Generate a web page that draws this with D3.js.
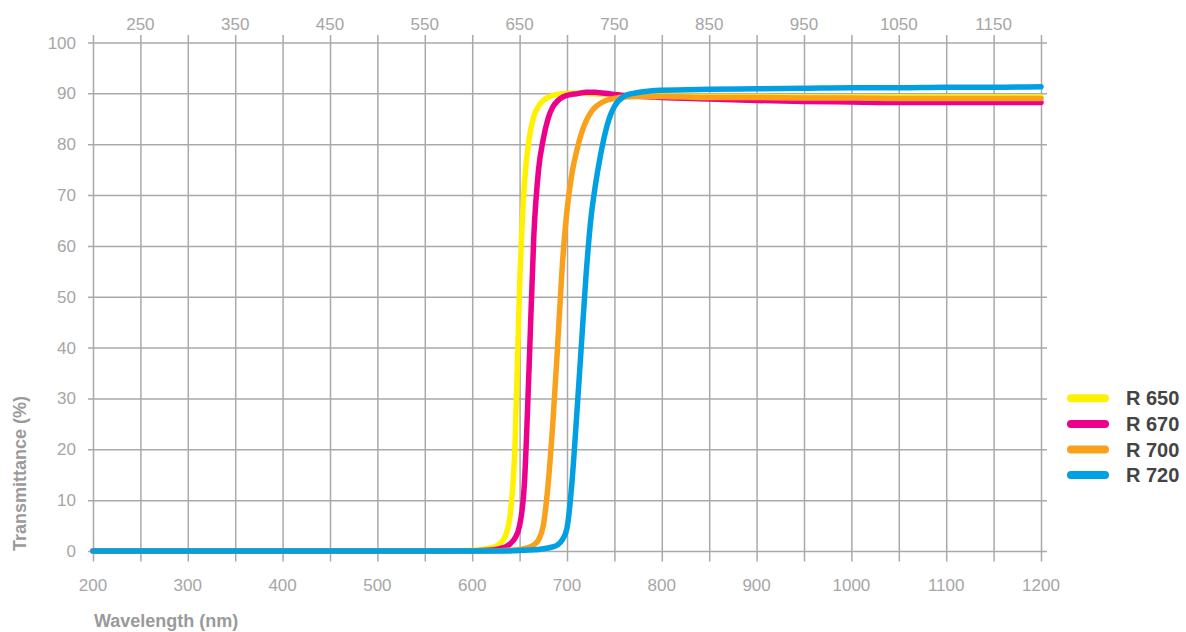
<!DOCTYPE html>
<html>
<head>
<meta charset="utf-8">
<script src="https://cdn.jsdelivr.net/npm/d3@7"></script>
<style>
  html, body { margin: 0; padding: 0; background: #fff; }
  svg { display: block; }
  .tick-label { font-family: "Liberation Sans", Arial, sans-serif; font-size: 17px; fill: #a6a6a6; }
  .axis-title { font-family: "Liberation Sans", Arial, sans-serif; font-size: 18px; font-weight: bold; fill: #9a9a9a; }
  .legend-label { font-family: "Liberation Sans", Arial, sans-serif; font-size: 20px; font-weight: bold; fill: #444; }
</style>
</head>
<body>
<svg id="chart" width="1186" height="632"></svg>
<script>
// Wavelength samples (nm), shared by all filters
const wavelengths = [200, 300, 400, 500, 550, 600, 610, 620, 625, 630, 635, 640, 645, 650, 655, 660, 665, 670, 675, 680, 685, 690, 695, 700, 705, 710, 715, 720, 725, 730, 735, 740, 745, 750, 760, 770, 780, 790, 800, 850, 900, 950, 1000, 1050, 1100, 1150, 1200];

// Transmittance (%) for each long-pass filter
const r650 = [0, 0, 0, 0, 0, 0.1, 0.3, 0.6, 0.9, 1.6, 3, 7, 20, 52, 72, 81, 85.5, 87.5, 88.6, 89.2, 89.6, 89.8, 89.9, 90, 90, 90, 90, 90, 89.9, 89.9, 89.8, 89.8, 89.7, 89.7, 89.6, 89.6, 89.5, 89.5, 89.5, 89.4, 89.4, 89.3, 89.3, 89.3, 89.3, 89.3, 89.3];
const r670 = [0, 0, 0, 0, 0, 0.05, 0.1, 0.2, 0.3, 0.5, 0.8, 1.4, 2.5, 5, 13, 36, 62, 75, 81, 85, 87.3, 88.5, 89.2, 89.6, 89.8, 89.9, 90.1, 90.2, 90.2, 90.2, 90.1, 90, 89.9, 89.8, 89.6, 89.5, 89.4, 89.3, 89.2, 88.9, 88.6, 88.4, 88.3, 88.2, 88.2, 88.2, 88.2];
const r700 = [0, 0, 0, 0, 0, 0, 0, 0, 0, 0.05, 0.1, 0.15, 0.2, 0.3, 0.5, 0.7, 1.2, 2.2, 5, 13, 25, 40, 56, 67, 74, 78.5, 82, 84.5, 86.2, 87.3, 88, 88.5, 88.8, 89, 89.3, 89.4, 89.4, 89.4, 89.4, 89.2, 89.2, 89.1, 89.1, 89, 89, 89, 89];
const r720 = [0, 0, 0, 0, 0, 0, 0, 0, 0, 0, 0, 0, 0.05, 0.1, 0.15, 0.2, 0.25, 0.3, 0.45, 0.6, 0.8, 1.2, 2.2, 4.5, 13, 26, 40, 54, 65, 72, 77.5, 82, 85.3, 87.4, 89.4, 90, 90.3, 90.5, 90.6, 90.8, 90.9, 91, 91.1, 91.1, 91.2, 91.2, 91.3];

const seriesNames = ["R 650", "R 670", "R 700", "R 720"];
const seriesColors = ["#fff100", "#ec008c", "#f9a11b", "#00a0e3"];
const seriesValues = [r650, r670, r700, r720];

// Axis ticks
const yTicks = [0, 10, 20, 30, 40, 50, 60, 70, 80, 90, 100];
const xBottomTicks = [200, 300, 400, 500, 600, 700, 800, 900, 1000, 1100, 1200];
const xTopTicks = [250, 350, 450, 550, 650, 750, 850, 950, 1050, 1150];

const svg = d3.select("#chart");
const plot = { left: 93, right: 1041, top: 42.5, bottom: 551 };

const x = d3.scaleLinear().domain([200, 1200]).range([plot.left, plot.right]);
const y = d3.scaleLinear().domain([0, 100]).range([plot.bottom, plot.top]);

const gridColor = "#a9a9a9";

// Horizontal grid lines (with small overhang on both sides)
const hGrid = svg.append("g")
  .attr("transform", `translate(${plot.left - 5},0)`)
  .call(d3.axisRight(y).tickValues(yTicks).tickSize(plot.right - plot.left + 11).tickFormat(""));
hGrid.select(".domain").remove();
hGrid.selectAll("line").attr("stroke", gridColor).attr("stroke-width", 1.5);

// Vertical grid lines every 50 nm (with overhang top and bottom)
const vGrid = svg.append("g")
  .attr("transform", `translate(0,${plot.top - 7.5})`)
  .call(d3.axisBottom(x).tickValues(d3.range(200, 1201, 50)).tickSize(plot.bottom - plot.top + 18).tickFormat(""));
vGrid.select(".domain").remove();
vGrid.selectAll("line").attr("stroke", gridColor).attr("stroke-width", 1.5);

// Tick labels
svg.append("g").selectAll("text").data(yTicks).join("text")
  .attr("class", "tick-label")
  .attr("x", 76).attr("y", d => y(d) + 6)
  .attr("text-anchor", "end")
  .text(d => d);

svg.append("g").selectAll("text").data(xBottomTicks).join("text")
  .attr("class", "tick-label")
  .attr("x", d => x(d)).attr("y", 591)
  .attr("text-anchor", "middle")
  .text(d => d);

svg.append("g").selectAll("text").data(xTopTicks).join("text")
  .attr("class", "tick-label")
  .attr("x", d => x(d)).attr("y", 30)
  .attr("text-anchor", "middle")
  .text(d => d);

// Axis titles
svg.append("text")
  .attr("class", "axis-title")
  .attr("transform", `translate(26,${plot.bottom}) rotate(-90)`)
  .attr("text-anchor", "start")
  .text("Transmittance (%)");

svg.append("text")
  .attr("class", "axis-title")
  .attr("x", 94).attr("y", 627)
  .text("Wavelength (nm)");

// Transmission curves
const line = d3.line()
  .x((d, i) => x(wavelengths[i]))
  .y(d => y(d))
  .curve(d3.curveMonotoneX);

svg.append("g").selectAll("path").data(seriesValues).join("path")
  .attr("d", d => line(d))
  .attr("fill", "none")
  .attr("stroke", (d, i) => seriesColors[i])
  .attr("stroke-width", 5.5)
  .attr("stroke-linejoin", "round")
  .attr("stroke-linecap", "round");

// Legend
const legend = svg.append("g").selectAll("g").data(seriesNames).join("g")
  .attr("transform", (d, i) => `translate(0,${398.3 + i * 25.6})`);
legend.append("line")
  .attr("x1", 1071).attr("x2", 1105)
  .attr("y1", 0).attr("y2", 0)
  .attr("stroke", (d, i) => seriesColors[i])
  .attr("stroke-width", 8)
  .attr("stroke-linecap", "round");
legend.append("text")
  .attr("class", "legend-label")
  .attr("x", 1126).attr("y", 7)
  .text(d => d);
</script>
</body>
</html>
